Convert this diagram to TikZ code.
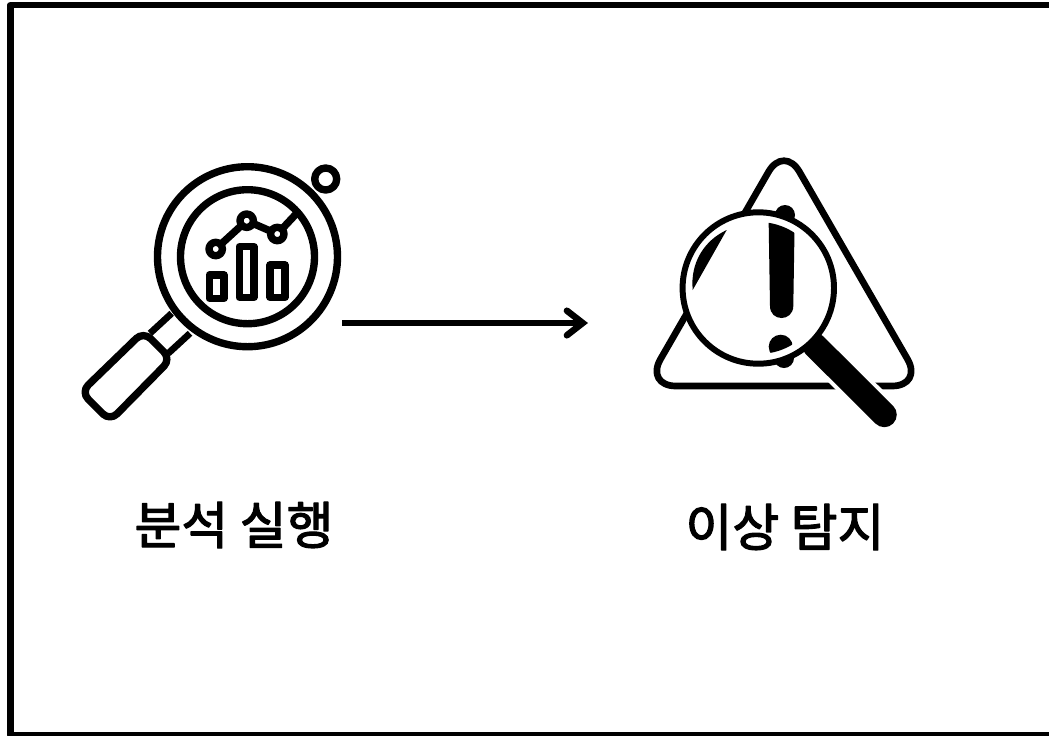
\documentclass[tikz,border=0pt]{standalone}
\usepackage{fontspec}
\newfontfamily\krfont[Script=Hangul,FakeBold=2.4]{Noto Sans CJK KR}
\usetikzlibrary{arrows.meta}
\tikzset{
	thick line/.style={line width=4.2pt},
	label text/.style={font=\krfont\fontsize{29}{34}\selectfont,inner sep=0pt}
}
\begin{document}
\begin{tikzpicture}[x=.02cm,y=-.02cm,line join=round]
	\useasboundingbox (0,0) rectangle (1049,735);
	\draw[line width=3.7pt] (10.5,5) rectangle (1056,735);

	% left icon
	\draw[thick line] (247.5,256.7) circle[radius=90];
	\draw[thick line] (247.5,256.7) circle[radius=67];
	\draw[thick line] (325.7,179) circle[radius=11];
	\draw[thick line] (314,191) -- (310,195);
	\draw[line width=3.8pt] (171.7,313.3) -- (150,333.3);
	\draw[line width=3.8pt] (190,333.3) -- (168.3,353.3);
	\draw[thick line,rounded corners=.2cm] (143.5,331.5) -- (171,359) -- (110,421) -- (81,392) -- cycle;
	\draw[thick line] (209.3,275) rectangle (224,298.3);
	\draw[thick line] (239.3,246.7) rectangle (254,297.3);
	\draw[thick line] (270,265) rectangle (285,297.3);
	\draw[thick line] (215.7,249) -- (246.7,220.7) -- (277.3,234) -- (296.7,213.3);
	\foreach \cx/\cy in {215.7/249,246.7/220.7,277.3/234}
		\draw[thick line,fill=white] (\cx,\cy) circle[radius=6.7];

	\coordinate (arrowstart) at (342,323);
	\coordinate (arrowend) at (588,323);
	\draw[line width=3.7pt,-{Straight Barb[length=9pt,width=14pt,line cap=round]}] (arrowstart) -- (arrowend);

	% right icon
	\draw[line width=3.8pt,rounded corners=.62cm] (784,145) -- (923,386) -- (645,386) -- cycle;
	\fill (785,215) circle[radius=10];
	\fill (784,358) circle[radius=10];
	\draw[white,line width=18.7pt] (814.3,345) -- (884.3,414.7);
	\draw[line width=14.2pt,line cap=round] (814.3,345) -- (884.3,414.7);
	\draw[line width=3.4pt,fill=white] (758.3,288) circle[radius=75.7];
	\begin{scope}
		\clip (758.3,288) circle[radius=66];
		\fill (768.3,200) -- (795,200) -- (793.3,306) .. controls (793,322) and (770,322) .. (770,306) -- cycle;
		\fill (780.7,346.7) circle[radius=12];
	\end{scope}
	\fill (726.7,230) .. controls (705,240) and (690,262) .. (692.7,290) -- cycle;

	\node[label text] (runlabel) at (234,525) {분석 실행};
	\node[label text] (detectlabel) at (785,527) {이상 탐지};
\end{tikzpicture}
\end{document}
